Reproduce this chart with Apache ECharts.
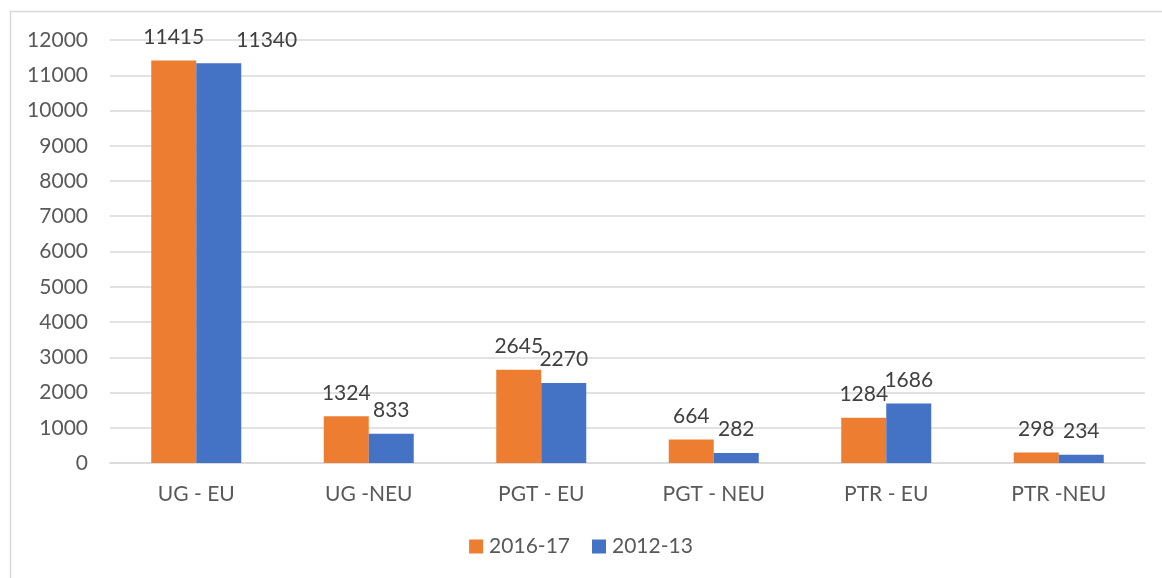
<!DOCTYPE html>
<html><head><meta charset="utf-8">
<script src="https://cdn.jsdelivr.net/npm/echarts@6/dist/echarts.min.js"></script>
<style>html,body{margin:0;padding:0;background:#fff}#c{width:1162px;height:578px}</style>
</head><body><div id="c"></div>
<script>
const categories = ['UG - EU', 'UG -NEU', 'PGT - EU', 'PGT - NEU', 'PTR - EU', 'PTR -NEU'];
const seriesNames = ['2016-17', '2012-13'];
const values2016 = [11415, 1324, 2645, 664, 1284, 298];
const values2012 = [11340, 833, 2270, 282, 1686, 234];
const yTicks = [0, 1000, 2000, 3000, 4000, 5000, 6000, 7000, 8000, 9000, 10000, 11000, 12000];

const FONT = 'Lato, "Open Sans", sans-serif';
const FS = 21;
const chart = echarts.init(document.getElementById('c'), null, {renderer: 'canvas'});
const labelBase = {show: true, position: 'top', distance: 13, color: '#404040', fontSize: FS, fontFamily: FONT};
const data2012 = values2012.map((v, i) => i === 0 ? {value: v, label: {offset: [48, 0]}} : v);
chart.setOption({
  animation: false,
  backgroundColor: '#fff',
  graphic: [{type: 'rect', shape: {x: 10.5, y: 11.5, width: 1170, height: 600}, style: {fill: 'none', stroke: '#d9d9d9', lineWidth: 1.5}, silent: true, z: -1}],
  grid: {left: 110, right: 17, top: 40, bottom: 115},
  legend: {
    data: seriesNames, bottom: 16, left: 'center', itemWidth: 14, itemHeight: 14, itemGap: 22, icon: 'rect',
    textStyle: {color: '#595959', fontSize: FS, fontFamily: FONT, padding: [0, 0, 0, 1]}
  },
  xAxis: {
    type: 'category', data: categories,
    axisLine: {show: true, lineStyle: {color: '#d9d9d9', width: 1.5}},
    axisTick: {show: false},
    axisLabel: {color: '#595959', fontSize: FS, fontFamily: FONT, margin: 21}
  },
  yAxis: {
    type: 'value', min: yTicks[0], max: yTicks[yTicks.length - 1], interval: 1000,
    axisLine: {show: false}, axisTick: {show: false},
    splitLine: {lineStyle: {color: '#d9d9d9', width: 1.5}},
    axisLabel: {color: '#595959', fontSize: FS, fontFamily: FONT, margin: 22, formatter: v => String(v)}
  },
  series: [
    {name: seriesNames[0], type: 'bar', data: values2016, barWidth: 45, barGap: '0%', itemStyle: {color: '#ED7D31'}, label: labelBase},
    {name: seriesNames[1], type: 'bar', data: data2012, barWidth: 45, barGap: '0%', itemStyle: {color: '#4472C4'}, label: labelBase}
  ]
});
</script></body></html>
